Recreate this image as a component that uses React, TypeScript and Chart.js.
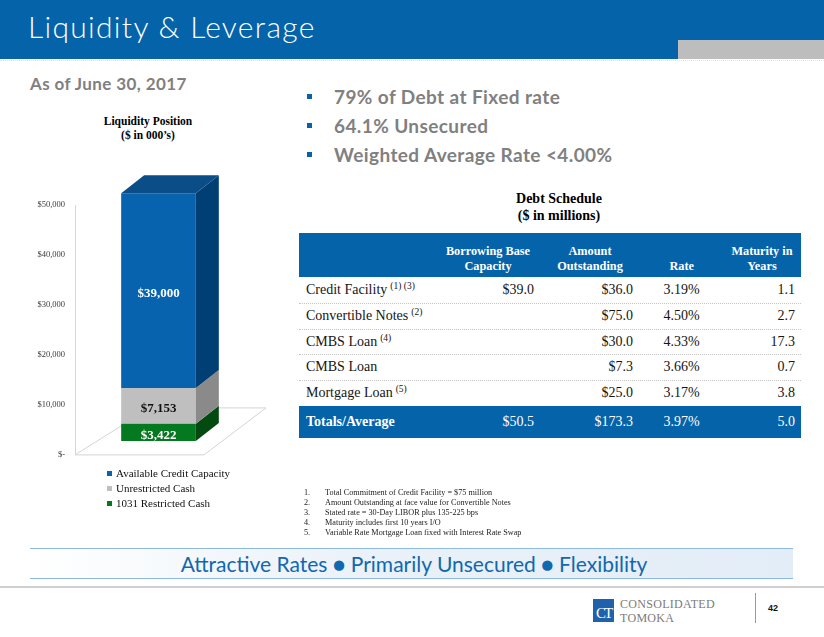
import React, { useEffect, useRef } from 'react';
import { Chart, registerables } from 'chart.js';

Chart.register(...registerables);

// ---------- data ----------
const categories = ['Liquidity Position'];
const seriesNames = ['1031 Restricted Cash', 'Unrestricted Cash', 'Available Credit Capacity'];
const restrictedCash = [3422];
const unrestrictedCash = [7153];
const availableCredit = [39000];
const yTickValues = [0, 10000, 20000, 30000, 40000, 50000];

const bulletPoints = ['79% of Debt at Fixed rate', '64.1% Unsecured', 'Weighted Average Rate <4.00%'];

const debtNames = ['Credit Facility', 'Convertible Notes', 'CMBS Loan', 'CMBS Loan', 'Mortgage Loan'];
const debtNotes = ['(1) (3)', '(2)', '(4)', '', '(5)'];
const borrowingBase = ['$39.0', '', '', '', ''];
const amountOutstanding = ['$36.0', '$75.0', '$30.0', '$7.3', '$25.0'];
const debtRates = ['3.19%', '4.50%', '4.33%', '3.66%', '3.17%'];
const maturities = ['1.1', '2.7', '17.3', '0.7', '3.8'];
const totalsRow = ['Totals/Average', '$50.5', '$173.3', '3.97%', '5.0'];

const footnotes = [
  'Total Commitment of Credit Facility = $75 million',
  'Amount Outstanding at face value for Convertible Notes',
  'Stated rate = 30-Day LIBOR plus 135-225 bps',
  'Maturity includes first 10 years I/O',
  'Variable Rate Mortgage Loan fixed with Interest Rate Swap',
];

// ---------- styles ----------
const SERIF = '"Liberation Serif", "Times New Roman", serif';
const SANS = 'Lato, "Open Sans", sans-serif';
const BLUE = '#0563a9';
const frontColors = ['#04791f', '#bfbfbf', '#0763ad'];
const sideColors = ['#024a10', '#8a8a8a', '#003f73'];
const topColor = '#0a4d87';
const labelColors = ['#ffffff', '#111111', '#ffffff'];

const fmtMoney = (v: number) => (v === 0 ? '$-' : '$' + v.toLocaleString('en-US'));

const DX = 23;
const DY = -18;

const depthPlugin = {
  id: 'depth3d',
  beforeDatasetsDraw(chart: any) {
    const { ctx, chartArea: a } = chart;
    ctx.save();
    ctx.strokeStyle = '#d4d4d4';
    ctx.lineWidth = 1;
    ctx.beginPath();
    ctx.moveTo(a.left, a.bottom);
    ctx.lineTo(a.left + 129, a.bottom);
    ctx.lineTo(a.left + 191, a.bottom - 47);
    ctx.lineTo(a.left + 75, a.bottom - 47);
    ctx.closePath();
    ctx.stroke();
    ctx.restore();
  },
  afterDatasetsDraw(chart: any) {
    const { ctx } = chart;
    const n = chart.data.datasets.length;
    ctx.save();
    for (let d = 0; d < n; d++) {
      const meta = chart.getDatasetMeta(d);
      meta.data.forEach((el: any) => {
        const { x, y, base, width } = el.getProps(['x', 'y', 'base', 'width'], true);
        const r = x + width / 2;
        const l = x - width / 2;
        ctx.fillStyle = sideColors[d];
        ctx.beginPath();
        ctx.moveTo(r, y);
        ctx.lineTo(r + DX, y + DY);
        ctx.lineTo(r + DX, base + DY);
        ctx.lineTo(r, base);
        ctx.closePath();
        ctx.fill();
        if (d === n - 1) {
          ctx.fillStyle = topColor;
          ctx.beginPath();
          ctx.moveTo(l, y);
          ctx.lineTo(l + DX, y + DY);
          ctx.lineTo(r + DX, y + DY);
          ctx.lineTo(r, y);
          ctx.closePath();
          ctx.fill();
        }
      });
    }
    ctx.font = `bold 13px ${SERIF}`;
    ctx.textAlign = 'center';
    ctx.textBaseline = 'middle';
    for (let d = 0; d < n; d++) {
      const meta = chart.getDatasetMeta(d);
      const ds = chart.data.datasets[d];
      meta.data.forEach((el: any, i: number) => {
        const { x, y, base } = el.getProps(['x', 'y', 'base'], true);
        ctx.fillStyle = labelColors[d];
        ctx.fillText(fmtMoney(ds.data[i] as number), x, (y + base) / 2 + 3);
      });
    }
    ctx.restore();
  },
};

function LiquidityChart() {
  const ref = useRef<HTMLCanvasElement | null>(null);
  useEffect(() => {
    if (!ref.current) return;
    const series = [restrictedCash, unrestrictedCash, availableCredit];
    const chart = new Chart(ref.current, {
      type: 'bar',
      data: {
        labels: categories,
        datasets: series.map((s, i) => ({
          label: seriesNames[i],
          data: s,
          backgroundColor: frontColors[i],
          yAxisID: 'yb',
          barPercentage: 0.447,
          categoryPercentage: 1,
          clip: false as any,
        })),
      },
      options: {
        animation: false,
        responsive: false,
        devicePixelRatio: 1,
        layout: { padding: { left: 0, right: 38, top: 35, bottom: 14 } },
        plugins: { legend: { display: false }, tooltip: { enabled: false } },
        scales: {
          x: { display: false, stacked: true },
          y: {
            position: 'left',
            min: 0,
            max: 50000,
            afterFit: (s: any) => {
              s.width = 55;
            },
            afterBuildTicks: (s: any) => {
              s.ticks = yTickValues.map((v) => ({ value: v }));
            },
            grid: { display: false, drawTicks: false },
            border: { display: true, color: '#d6d6d6', width: 1 },
            ticks: {
              padding: 10,
              color: '#3a3a3a',
              font: { family: SERIF, size: 8.5 },
              callback: (v: any) => fmtMoney(Number(v)),
            },
          },
          yb: { display: false, stacked: true, min: -2800, max: 47200 },
        },
      } as any,
      plugins: [depthPlugin],
    });
    return () => chart.destroy();
  }, []);
  return <canvas ref={ref} width={260} height={300} style={{ position: 'absolute', left: 20, top: 170 }} />;
}

const abs = (s: React.CSSProperties): React.CSSProperties => ({ position: 'absolute', whiteSpace: 'nowrap', ...s });

export default function App() {
  useEffect(() => {
    document.body.style.margin = '0';
  }, []);

  const rowTop = 277;
  const rowH = 25.8;
  const cellFont: React.CSSProperties = { fontFamily: SERIF, fontSize: 14, color: '#151515' };

  return (
    <div style={{ position: 'absolute', left: 0, top: 0, width: 824, height: 637, background: '#fff', overflow: 'hidden', fontFamily: SERIF }}>
      {/* header */}
      <div style={abs({ left: 0, top: 0, width: 824, height: 59, background: BLUE })} />
      <div style={abs({ left: 678, top: 40, width: 146, height: 19, background: '#bdbdbd' })} />
      <div style={abs({ left: 0, top: 60, width: 824, height: 0, borderTop: '1px dotted #e2e2e2' })} />
      <div style={abs({ left: 28, top: 11, lineHeight: '30px', fontFamily: SANS, fontWeight: 300, fontSize: 30, letterSpacing: 1.3, color: '#fff' })}>
        Liquidity &amp; Leverage
      </div>

      <div style={abs({ left: 30, top: 74, lineHeight: '20px', fontFamily: SANS, fontWeight: 700, fontSize: 17, letterSpacing: 0.4, color: '#808080' })}>
        As of June 30, 2017
      </div>

      {bulletPoints.map((b, i) => (
        <React.Fragment key={b}>
          <div style={abs({ left: 307, top: 94 + i * 29.2, width: 5, height: 5, background: BLUE })} />
          <div style={abs({ left: 334, top: 85.5 + i * 29.2, lineHeight: '22px', fontFamily: SANS, fontWeight: 700, fontSize: 19, letterSpacing: 0.4, color: '#808080' })}>
            {b}
          </div>
        </React.Fragment>
      ))}

      {/* chart title */}
      <div style={abs({ left: 48, top: 114, width: 200, textAlign: 'center', fontWeight: 700, fontSize: 11.5, lineHeight: '14px', color: '#000' })}>
        Liquidity Position
        <br />($ in 000’s)
      </div>

      <LiquidityChart />

      {/* legend */}
      {[...seriesNames].reverse().map((name, i) => (
        <React.Fragment key={name}>
          <div style={abs({ left: 107, top: 471 + i * 15, width: 5, height: 5, background: frontColors[2 - i] })} />
          <div style={abs({ left: 116, top: 466 + i * 15, lineHeight: '15px', fontSize: 11, color: '#111' })}>{name}</div>
        </React.Fragment>
      ))}

      {/* debt schedule */}
      <div style={abs({ left: 459, top: 190, width: 200, textAlign: 'center', fontWeight: 700, fontSize: 14, lineHeight: '17.4px', color: '#000' })}>
        Debt Schedule
        <br />($ in millions)
      </div>
      <div style={abs({ left: 299, top: 233, width: 502, height: 44, background: BLUE })} />
      {[
        { c: 488, t: ['Borrowing Base', 'Capacity'] },
        { c: 590, t: ['Amount', 'Outstanding'] },
        { c: 681.7, t: ['Rate'] },
        { c: 762, t: ['Maturity in', 'Years'] },
      ].map((h) => (
        <div
          key={h.c}
          style={abs({ left: h.c - 60, width: 120, top: h.t.length === 2 ? 244.2 : 259.2, textAlign: 'center', fontWeight: 700, fontSize: 12.3, lineHeight: '15px', color: '#fff' })}
        >
          {h.t.map((line, k) => (
            <div key={k}>{line}</div>
          ))}
        </div>
      ))}

      {debtNames.map((name, i) => {
        const top = rowTop + i * rowH;
        const base: React.CSSProperties = { ...cellFont, top, height: rowH, lineHeight: `${rowH}px` };
        return (
          <React.Fragment key={i}>
            {i > 0 && <div style={abs({ left: 299, top, width: 502, height: 0, borderTop: '1px dotted #c4c4c4' })} />}
            <div style={abs({ ...base, left: 306 })}>
              {name}
              {debtNotes[i] && (
                <span style={{ fontSize: 9.5, position: 'relative', top: -5, marginLeft: 3 }}>{debtNotes[i]}</span>
              )}
            </div>
            <div style={abs({ ...base, left: 434, width: 100, textAlign: 'right' })}>{borrowingBase[i]}</div>
            <div style={abs({ ...base, left: 533, width: 100, textAlign: 'right' })}>{amountOutstanding[i]}</div>
            <div style={abs({ ...base, left: 641.7, width: 80, textAlign: 'center' })}>{debtRates[i]}</div>
            <div style={abs({ ...base, left: 715, width: 80, textAlign: 'right' })}>{maturities[i]}</div>
          </React.Fragment>
        );
      })}
      <div style={abs({ left: 299, top: 406, width: 502, height: 32, background: BLUE })} />
      {(() => {
        const base: React.CSSProperties = { fontFamily: SERIF, fontSize: 14, color: '#fff', top: 406, height: 32, lineHeight: '32px' };
        return (
          <>
            <div style={abs({ ...base, left: 306, fontWeight: 700 })}>{totalsRow[0]}</div>
            <div style={abs({ ...base, left: 434, width: 100, textAlign: 'right' })}>{totalsRow[1]}</div>
            <div style={abs({ ...base, left: 533, width: 100, textAlign: 'right' })}>{totalsRow[2]}</div>
            <div style={abs({ ...base, left: 641.7, width: 80, textAlign: 'center' })}>{totalsRow[3]}</div>
            <div style={abs({ ...base, left: 715, width: 80, textAlign: 'right' })}>{totalsRow[4]}</div>
          </>
        );
      })()}

      {/* footnotes */}
      {footnotes.map((f, i) => (
        <React.Fragment key={i}>
          <div style={abs({ left: 304, top: 488.3 + i * 10, lineHeight: '10px', fontSize: 8.2, color: '#222' })}>{i + 1}.</div>
          <div style={abs({ left: 325, top: 488.3 + i * 10, lineHeight: '10px', fontSize: 8.2, color: '#222' })}>{f}</div>
        </React.Fragment>
      ))}

      {/* bottom band */}
      <div
        style={abs({
          left: 30,
          top: 548,
          width: 763,
          height: 29,
          borderTop: '1.5px solid #8dbbe0',
          borderBottom: '1.5px solid #8dbbe0',
          background: 'linear-gradient(to right, #ffffff 0%, #eaf1f8 45%, #e3edf7 100%)',
        })}
      />
      <div style={abs({ left: 30, top: 551, width: 768, textAlign: 'center', fontFamily: SANS, fontSize: 21, lineHeight: '25px', color: '#1068b0' })}>
        Attractive Rates ● Primarily Unsecured ● Flexibility
      </div>
      <div style={abs({ left: 0, top: 586, width: 824, height: 2, background: '#cfcfcf' })} />

      {/* logo */}
      <div style={abs({ left: 593, top: 599, width: 21, height: 23, background: '#1f62ab' })} />
      <div style={abs({ left: 593, top: 605, width: 21, textAlign: 'center', fontSize: 15, lineHeight: '16px', color: '#fff', letterSpacing: -2 })}>CT</div>
      <div style={abs({ left: 620, top: 597, fontSize: 12, lineHeight: '14px', color: '#7b7b7b', letterSpacing: 0.3 })}>CONSOLIDATED</div>
      <div style={abs({ left: 620, top: 610.5, fontSize: 12, lineHeight: '14px', color: '#7b7b7b', letterSpacing: 0.3 })}>TOMOKA</div>
      <div style={abs({ left: 755, top: 593, width: 1, height: 30, background: '#9a9a9a' })} />
      <div style={abs({ left: 768, top: 603, fontFamily: '"Liberation Sans", Arial, sans-serif', fontWeight: 700, fontSize: 9, lineHeight: '10px', color: '#111' })}>42</div>
    </div>
  );
}
